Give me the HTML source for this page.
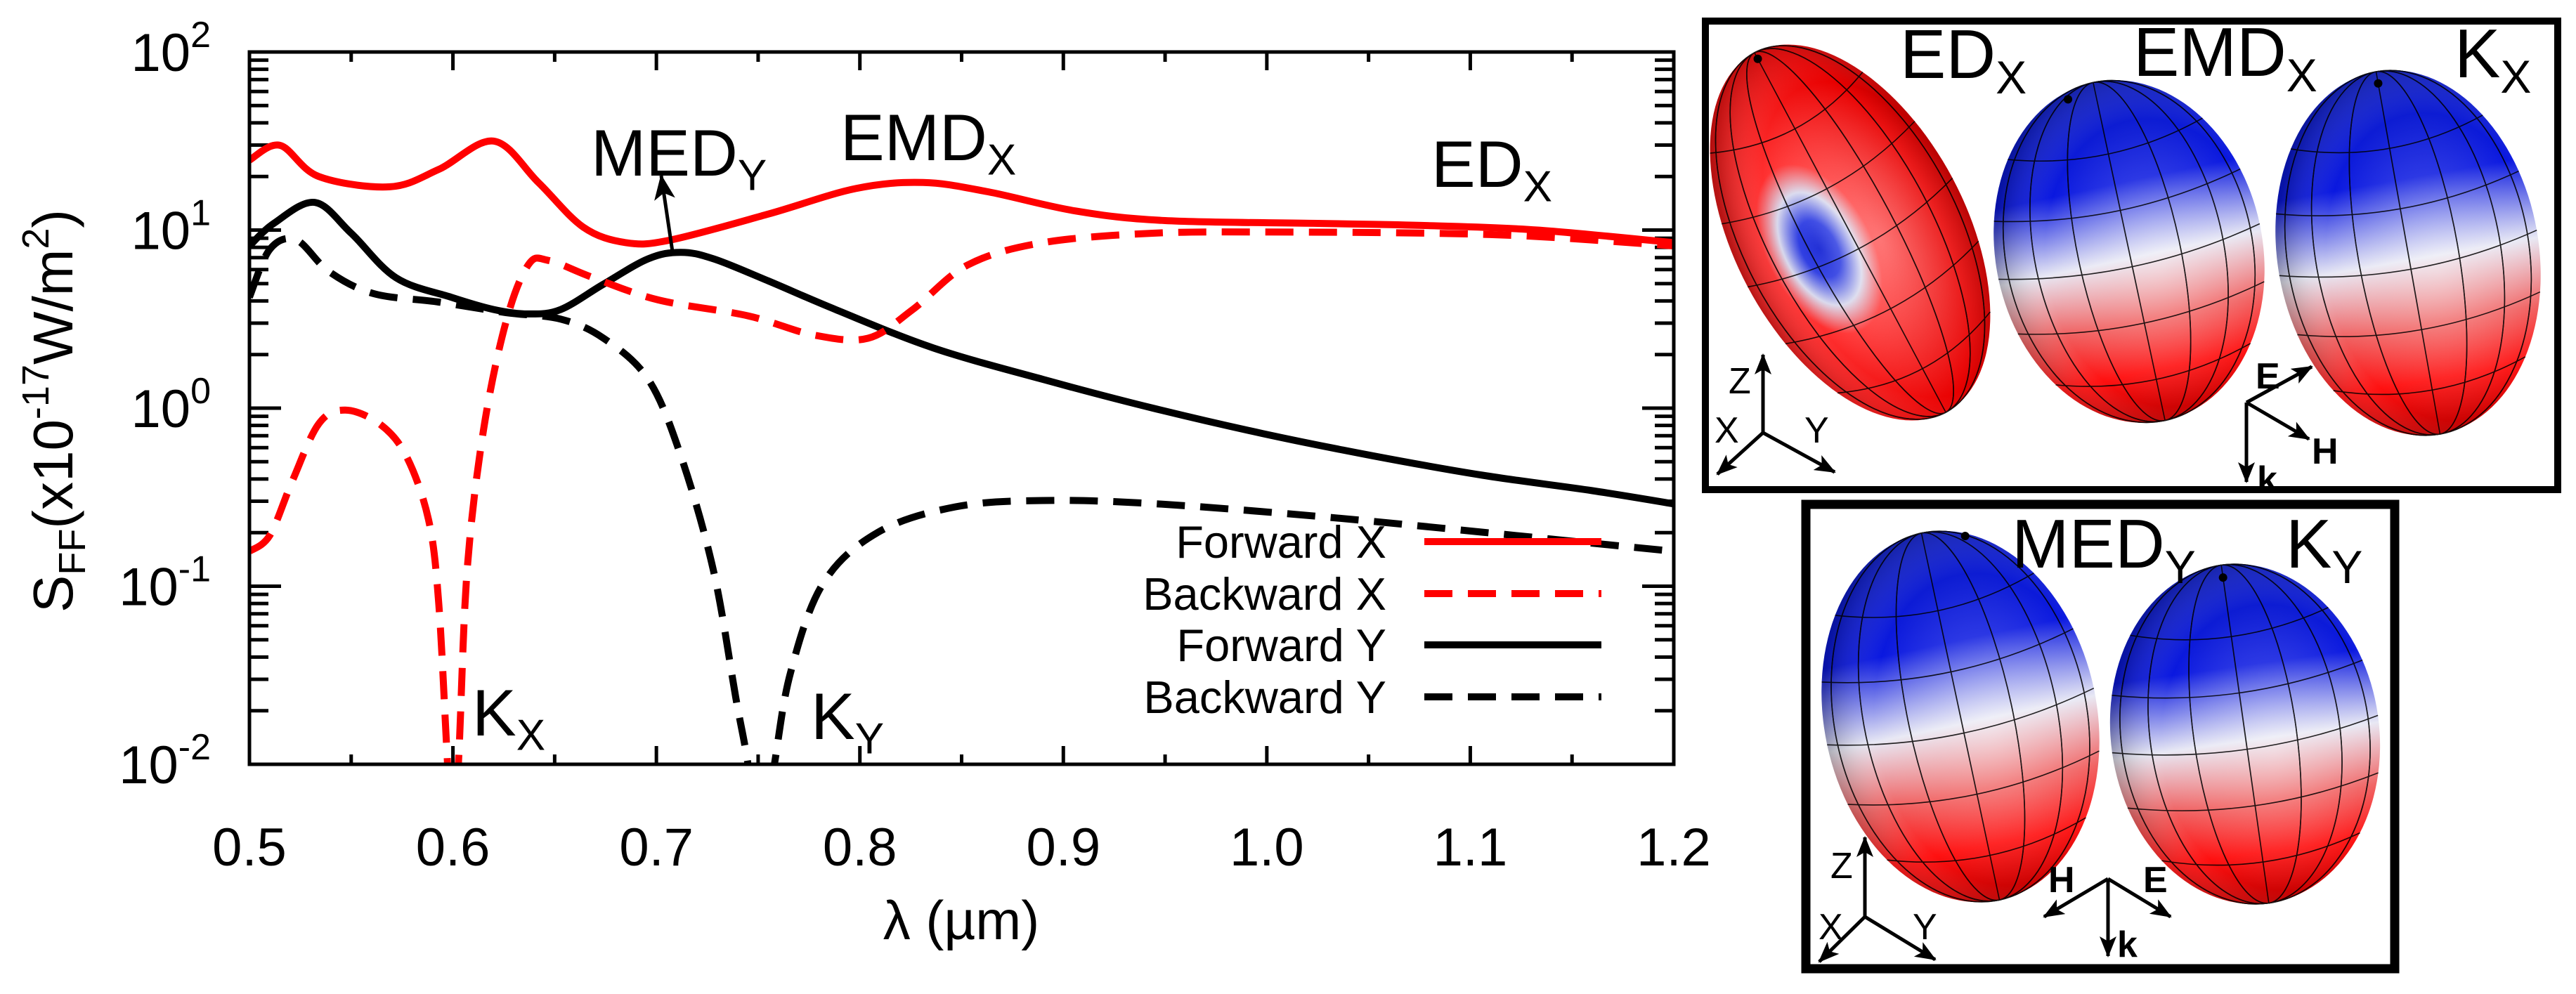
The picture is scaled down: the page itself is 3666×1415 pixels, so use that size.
<!DOCTYPE html>
<html><head><meta charset="utf-8">
<style>
html,body{margin:0;padding:0;background:#fff;}
svg{display:block;font-family:"Liberation Sans",Arial,sans-serif;}
</style></head>
<body>
<svg id="fig" width="3666" height="1415" viewBox="0 0 3666 1415" xmlns="http://www.w3.org/2000/svg">
<defs>
  <linearGradient id="gBR" x1="0" y1="0" x2="0" y2="1">
    <stop offset="0" stop-color="#1020c8"/>
    <stop offset="0.3" stop-color="#0a18e0"/>
    <stop offset="0.52" stop-color="#e8e8f4"/>
    <stop offset="0.7" stop-color="#f06060"/>
    <stop offset="0.85" stop-color="#ff1010"/>
    <stop offset="1" stop-color="#c00000"/>
  </linearGradient>
  <radialGradient id="gShade" cx="0.6" cy="0.55" r="0.6">
    <stop offset="0" stop-color="#fff" stop-opacity="0.35"/>
    <stop offset="0.7" stop-color="#fff" stop-opacity="0"/>
    <stop offset="1" stop-color="#000" stop-opacity="0.25"/>
  </radialGradient>
  <radialGradient id="gED" cx="0.35" cy="0.5" r="0.75">
    <stop offset="0" stop-color="#0010d0"/>
    <stop offset="0.1" stop-color="#2030e0"/>
    <stop offset="0.2" stop-color="#d8d8ec"/>
    <stop offset="0.3" stop-color="#ff3030"/>
    <stop offset="0.7" stop-color="#e80000"/>
    <stop offset="1" stop-color="#900000"/>
  </radialGradient>
  <marker id="arrowHead" markerWidth="30" markerHeight="24" refX="28" refY="12" orient="auto" markerUnits="userSpaceOnUse">
    <path d="M0,0 L30,12 L0,24 L7,12 z" fill="#000"/>
  </marker>
  <marker id="ah" markerWidth="36" markerHeight="30" refX="34" refY="15" orient="auto" markerUnits="userSpaceOnUse">
    <path d="M0,0 L36,15 L0,30 L9,15 z" fill="#000"/>
  </marker>
  <clipPath id="plotClip"><rect x="355" y="74" width="2027" height="1014"/></clipPath>
</defs>
<g id="chart"></g>
<g id="panels"></g>
</svg>
<script>
// ---- chart data ----
const xBX_FX = [0.5,0.515,0.534,0.569,0.593,0.620,0.642,0.664,0.685,0.707,0.755,0.798,0.831,0.863,0.906,0.950,1.025,1.079,1.133,1.2];
const forwardX = [24.7,29.9,20,17.5,21.9,31.6,18.5,10.4,8.5,8.8,12.3,17.1,18.5,16.4,12.8,11.3,10.9,10.6,10.0,8.5];
const xBX = [0.5,0.51,0.521,0.534,0.547,0.564,0.577,0.588,0.593,0.597,0.600,0.603,0.607,0.615,0.626,0.637,0.647,0.669,0.701,0.745,0.777,0.804,0.826,0.853,0.890,0.944,0.998,1.079,1.133,1.2];
const backwardX = [0.157,0.193,0.388,0.815,0.975,0.815,0.54,0.237,0.081,0.012,0.003,0.012,0.123,0.75,3.03,6.37,6.75,5.4,4.05,3.3,2.58,2.47,3.58,6.37,8.5,9.6,9.75,9.6,9.2,8.15];
const xFY = [0.5,0.512,0.532,0.55,0.572,0.599,0.620,0.637,0.653,0.674,0.696,0.712,0.728,0.755,0.788,0.836,0.890,0.944,0.998,1.052,1.106,1.16,1.2];
const forwardY = [8.15,10.9,14.3,9.6,5.4,4.2,3.58,3.38,3.58,4.97,6.9,7.5,6.9,5.18,3.58,2.18,1.45,1.0,0.72,0.54,0.42,0.344,0.29];
const xBY = [0.5,0.51,0.523,0.539,0.561,0.593,0.626,0.653,0.674,0.696,0.712,0.728,0.739,0.745,0.751,0.758,0.766,0.782,0.809,0.847,0.890,0.944,1.025,1.106,1.2];
const backwardY = [4.2,7.8,8.8,5.86,4.4,3.94,3.44,3.16,2.47,1.45,0.54,0.123,0.0237,0.01,0.003,0.01,0.033,0.104,0.201,0.279,0.303,0.291,0.247,0.201,0.157];
const xTicks = [0.5,0.6,0.7,0.8,0.9,1.0,1.1,1.2];
const xTickLabels = ["0.5","0.6","0.7","0.8","0.9","1.0","1.1","1.2"];
const yDecades = [-2,-1,0,1,2];
const legendLabels = ["Forward X","Backward X","Forward Y","Backward Y"];

const NS="http://www.w3.org/2000/svg";
const PL=355, PR=2382, PT=74, PB=1088;
const X0=0.5, X1=1.2, LMIN=-2, LMAX=2;
function sx(v){return PL+(v-X0)/(X1-X0)*(PR-PL);}
function sy(v){return PB-(Math.log10(v)-LMIN)/(LMAX-LMIN)*(PB-PT);}
function mk(tag,attrs,parent){const e=document.createElementNS(NS,tag);for(const k in attrs)e.setAttribute(k,attrs[k]);parent.appendChild(e);return e;}
const chart=document.getElementById('chart');

// ticks
const ticks=mk('g',{stroke:'#000','stroke-width':5},chart);


for(let v=0.5;v<=1.2001;v+=0.05){
  const x=sx(v); const major=Math.abs(v*10-Math.round(v*10))<1e-6; const L=major?26:14;
  mk('line',{x1:x,y1:PB,x2:x,y2:PB-L},ticks); mk('line',{x1:x,y1:PT,x2:x,y2:PT+L},ticks);
}
for(let d=-2;d<=2;d++){
  for(let m=1;m<=9;m++){
    if(d===2&&m>1)break;
    const y=sy(m*Math.pow(10,d)); const L=m===1?45:27;
    mk('line',{x1:PL,y1:y,x2:PL+L,y2:y},ticks); mk('line',{x1:PR,y1:y,x2:PR-L,y2:y},ticks);
  }
}
xTicks.forEach((v,i)=>{
  const t=mk('text',{x:sx(v),y:1232,'font-size':76,'text-anchor':'middle'},chart);
  t.textContent=xTickLabels[i];
  
  
});
yDecades.forEach(d=>{
  const t=mk('text',{x:300,y:sy(Math.pow(10,d))+27,'font-size':76,'text-anchor':'end'},chart);
  
  
  const a=mk('tspan',{},t); a.textContent='10';
  const b=mk('tspan',{dy:-34,'font-size':52},t); b.textContent=String(d);
});

function smoothPath(xs,ys){
  const p=xs.map((x,i)=>[sx(x),sy(ys[i])]);
  let d='M'+p[0][0].toFixed(1)+','+p[0][1].toFixed(1);
  for(let i=0;i<p.length-1;i++){
    const p0=p[Math.max(0,i-1)],p1=p[i],p2=p[i+1],p3=p[Math.min(p.length-1,i+2)];
    const c1=[p1[0]+(p2[0]-p0[0])/6,p1[1]+(p2[1]-p0[1])/6];
    const c2=[p2[0]-(p3[0]-p1[0])/6,p2[1]-(p3[1]-p1[1])/6];
    d+=' C'+c1.map(v=>v.toFixed(1)).join(',')+' '+c2.map(v=>v.toFixed(1)).join(',')+' '+p2[0].toFixed(1)+','+p2[1].toFixed(1);
  }
  return d;
}
const curves=mk('g',{'clip-path':'url(#plotClip)',fill:'none','stroke-width':10,'stroke-linejoin':'round'},chart);
const sBY=mk('path',{d:smoothPath(xBY,backwardY),stroke:'#000','stroke-dasharray':'40,22'},curves);


const sFY=mk('path',{d:smoothPath(xFY,forwardY),stroke:'#000'},curves);


const sBX=mk('path',{d:smoothPath(xBX,backwardX),stroke:'#f00','stroke-dasharray':'40,22'},curves);


const sFX=mk('path',{d:smoothPath(xBX_FX,forwardX),stroke:'#f00'},curves);



const frame=mk('rect',{x:PL,y:PT,width:PR-PL,height:PB-PT,fill:'none',stroke:'#000','stroke-width':5},chart);



const legColors=['#f00','#f00','#000','#000'];
const legDash=['none','40,22','none','40,22'];
const legY=[771,845,918,992];
legendLabels.forEach((s,i)=>{
  const g=mk('g',{},chart);
  
  
  const t=mk('text',{x:1973,y:legY[i]+23,'font-size':65,'text-anchor':'end'},g); t.textContent=s;
  mk('line',{x1:2027,y1:legY[i],x2:2279,y2:legY[i],stroke:legColors[i],'stroke-width':10,'stroke-dasharray':legDash[i]},g);
});

function label(x,y,main,sub,fs,name){
  const t=mk('text',{x:x,y:y,'font-size':fs},chart);
  
  
  const a=mk('tspan',{},t); a.textContent=main;
  const b=mk('tspan',{dy:fs*0.22,'font-size':fs*0.66},t); b.textContent=sub;
  return t;
}
label(841,250,'MED','Y',94,'med-y-annotation');
label(1196,228,'EMD','X',94,'emd-x-annotation');
label(2037,266,'ED','X',94,'ed-x-annotation');
label(672,1047,'K','X',94,'kx-annotation');
label(1154,1052,'K','Y',94,'ky-annotation');
const arr=mk('line',{x1:957,y1:358,x2:941,y2:250,stroke:'#000','stroke-width':5,'marker-end':'url(#ah)'},chart);



const xt=mk('text',{x:1368,y:1337,'font-size':78,'text-anchor':'middle'},chart);
xt.textContent='λ (µm)';


const yt=mk('text',{x:0,y:0,'font-size':80,'text-anchor':'middle',transform:'translate(103,585) rotate(-90)'},chart);


[['S',0,80],['FF',18,54],['(x10',-18,80],['-17',-34,54],['W/m',34,80],['2',-34,54],[')',34,80]].forEach(s=>{
  const ts=mk('tspan',{dy:s[1],'font-size':s[2]},yt); ts.textContent=s[0];
});

// ---- right panels ----
const panels=document.getElementById('panels');
const b1=mk('rect',{x:2427,y:30,width:1213,height:667,fill:'none',stroke:'#000','stroke-width':10},panels);


const b2=mk('rect',{x:2570,y:718,width:838,height:661,fill:'none',stroke:'#000','stroke-width':13},panels);



function blob(cx,cy,rx,ry,rot,fill,name,pole){
  const g=mk('g',{transform:`translate(${cx},${cy}) rotate(${rot})`},panels);
  
  
  mk('ellipse',{cx:0,cy:0,rx:rx,ry:ry,fill:fill},g);
  mk('ellipse',{cx:0,cy:0,rx:rx,ry:ry,fill:'url(#gShade)'},g);
  const gl=mk('g',{fill:'none',stroke:'#000','stroke-width':1.6,opacity:0.85},g);
  for(let k=1;k<8;k++){const f=Math.cos(k*Math.PI/8);mk('ellipse',{cx:0,cy:0,rx:Math.abs(rx*f)+0.1,ry:ry},gl);}
  for(let k=1;k<6;k++){const yy=-ry+k*ry/3; if(Math.abs(yy)>=ry)continue; const w=rx*Math.sqrt(1-yy*yy/(ry*ry)); mk('path',{d:`M${-w},${yy} Q0,${yy+ry*0.18} ${w},${yy}`},gl);}
  mk('circle',{cx:pole[0],cy:pole[1],r:6,fill:'#000'},g);
}
blob(2633,331,165,290,-28,'url(#gED)','ed-x-pattern',[0,-280]);
blob(3030,358,190,246,-12,'url(#gBR)','emd-x-pattern',[-40,-230]);
blob(3427,360,186,262,-10,'url(#gBR)','kx-pattern',[0,-245]);
blob(2790,1020,194,267,-12,'url(#gBR)','med-y-pattern',[60,-250]);
blob(3195,1045,191,243,-8,'url(#gBR)','ky-pattern',[0,-225]);

function plabel(x,y,main,sub,name){
  const t=mk('text',{x:x,y:y,'font-size':98},panels);
  
  
  const a=mk('tspan',{},t); a.textContent=main;
  const b=mk('tspan',{dy:22,'font-size':66},t); b.textContent=sub;
}
plabel(2704,111,'ED','X','ed-x-panel-label');
plabel(3036,108,'EMD','X','emd-x-panel-label');
plabel(3493,110,'K','X','kx-panel-label');
plabel(2863,808,'MED','Y','med-y-panel-label');
plabel(3253,808,'K','Y','ky-panel-label');

function axes(o,ends,labels,bold,name){
  const g=mk('g',{},panels);
  
  
  ends.forEach(e=>mk('line',{x1:o[0],y1:o[1],x2:e[0],y2:e[1],stroke:'#000','stroke-width':5,'marker-end':'url(#arrowHead)'},g));
  labels.forEach(l=>{const t=mk('text',{x:l[1],y:l[2],'font-size':52,'font-weight':bold?'bold':'normal'},g);t.textContent=l[0];});
}
axes([2509,616],[[2509,505],[2444,675],[2611,672]],[['Z',2460,560],['X',2440,630],['Y',2568,630]],false,'xyz-axes-top');
axes([3197,573],[[3197,686],[3290,522],[3286,625]],[['E',3210,553],['H',3290,660],['k',3212,700]],true,'ekh-axes-top');
axes([2654,1305],[[2654,1192],[2589,1369],[2754,1366]],[['Z',2605,1250],['X',2588,1337],['Y',2722,1337]],false,'xyz-axes-bottom');
axes([3000,1251],[[2909,1305],[3089,1305],[3000,1361]],[['H',2915,1270],['E',3050,1270],['k',3013,1362]],true,'hek-axes-bottom');
</script>
</body></html>
